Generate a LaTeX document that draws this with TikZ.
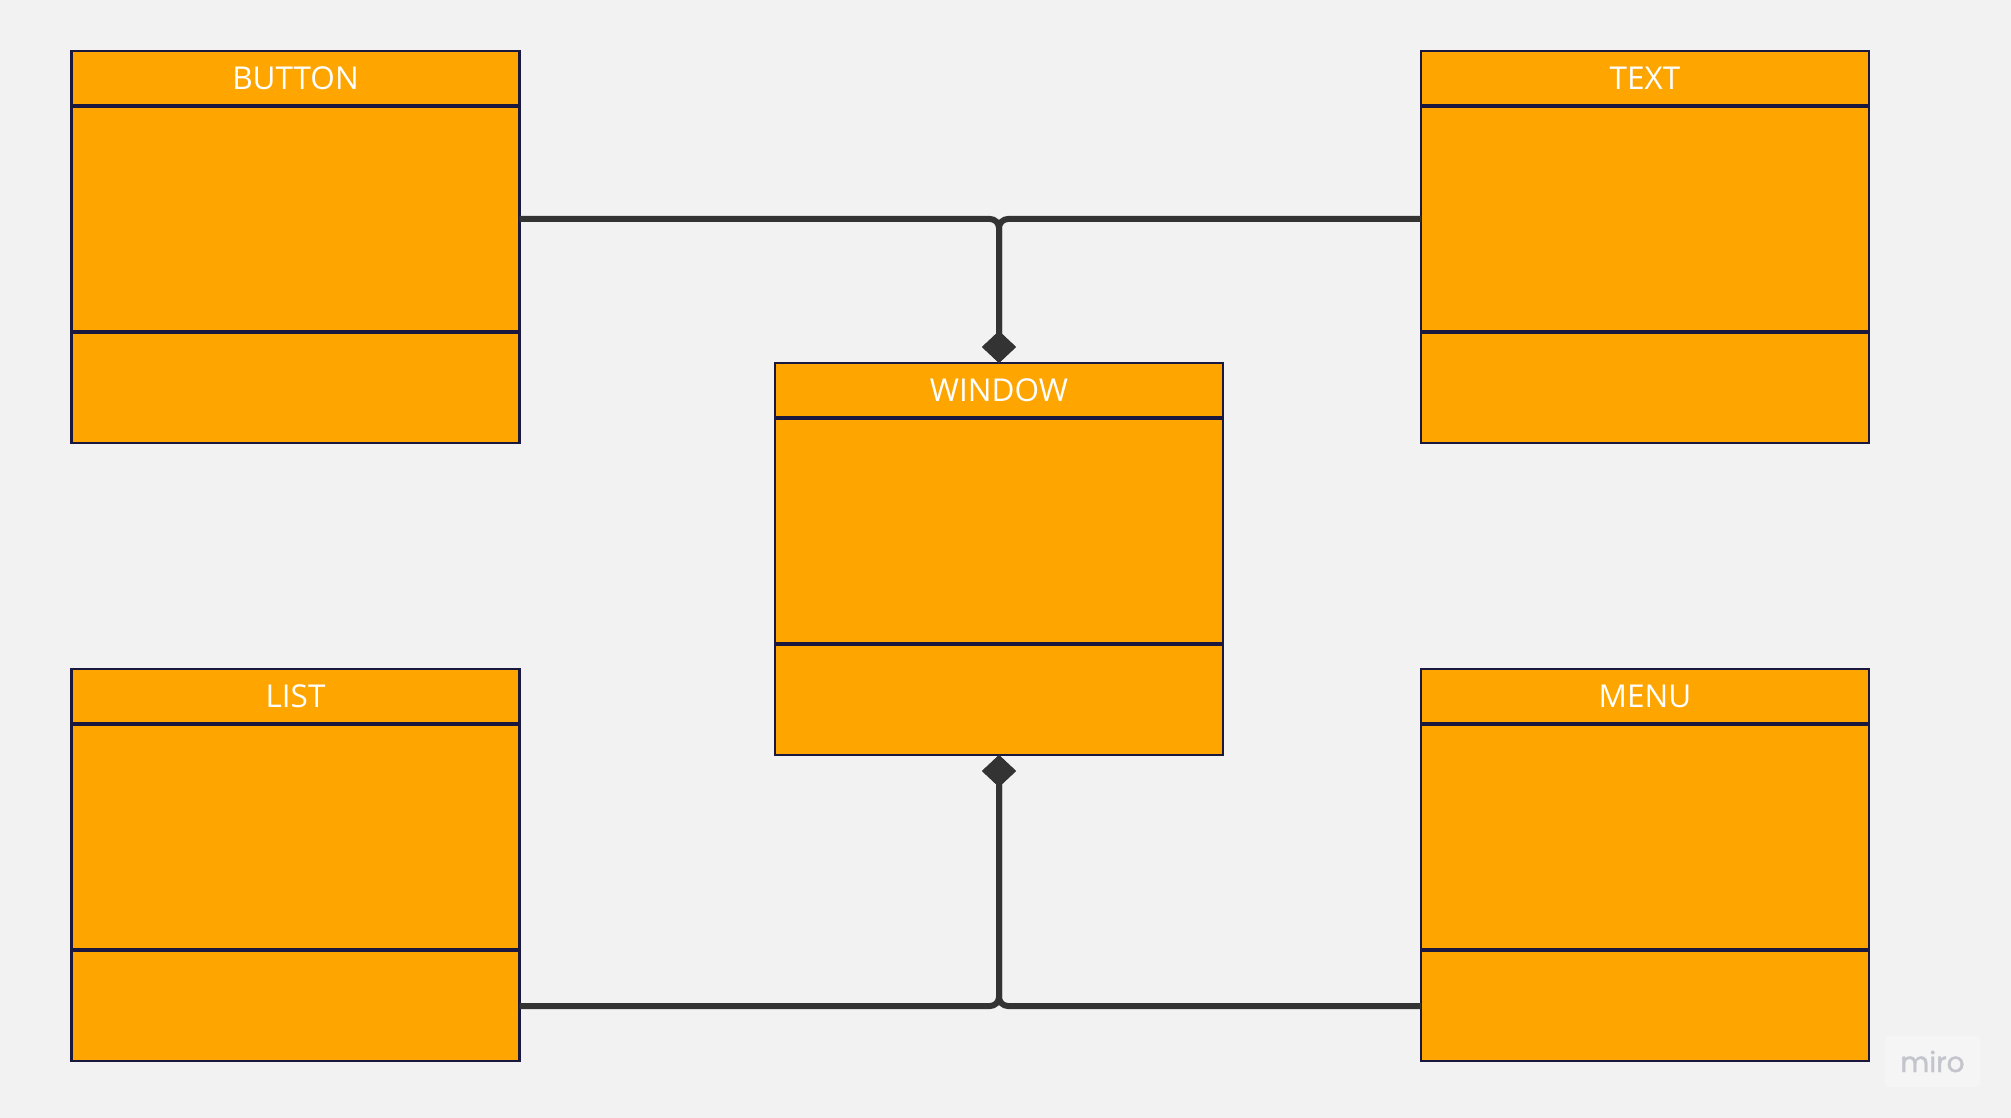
\documentclass[tikz,border=0pt]{standalone}
\usepackage{fontspec}
\setmainfont{Open Sans}
\newfontfamily\logofont[FakeBold=1.3]{Poppins}
\usetikzlibrary{arrows.meta}
\definecolor{canvas}{HTML}{F2F2F2}
\definecolor{umlorange}{HTML}{FFA500}
\definecolor{edge}{HTML}{1B1840}
\definecolor{wire}{HTML}{333333}
\definecolor{logobg}{HTML}{F5F5F6}
\definecolor{logotext}{HTML}{C4C4CC}

% one class box: header, attribute and operation compartments
\newcommand\umlclass[4]{%
  \node[part, minimum height=54pt] (#1-head) at (#2,#3) {\headfont\raisebox{-2.5pt}{#4}};
  \node[part, minimum height=224pt] (#1-body) at (#2,#3+56) {};
  \node[part, minimum height=110pt] (#1-foot) at (#2,#3+282) {};
}
\newcommand\headfont{\color{white}\fontsize{31.5}{36}\selectfont}

\begin{document}
\begin{tikzpicture}[x=1pt,y=-1pt,
  part/.style={draw=edge, fill=umlorange, line width=2.2pt, outer sep=0pt,
    inner sep=0pt, minimum width=448pt, anchor=north west},
  conn/.style={draw=wire, line width=6pt, rounded corners=9pt,
    -{Diamond[length=32pt,width=34pt]}}]
  \fill[canvas] (0,0) rectangle (2011,1118);
  \useasboundingbox (0,0) rectangle (2011,1118);

  \umlclass{button}{71.5}{51}{BUTTON}
  \umlclass{text}{1421}{51}{TEXT}
  \umlclass{window}{775}{363}{WINDOW}
  \umlclass{list}{71.5}{669}{LIST}
  \umlclass{menu}{1421}{669}{MENU}

  % compositions into the window
  \draw[conn] (button-body.east) -| (window-head.north);
  \draw[conn] (text-body.west) -| (window-head.north);
  \draw[conn] (list-foot.east) -| (window-foot.south);
  \draw[conn] (menu-foot.west) -| (window-foot.south);

  % watermark
  \node[fill=logobg, rounded corners=3pt, minimum width=95pt, minimum height=51pt,
    text=logotext, font=\logofont\fontsize{28}{32}\selectfont] (logo) at (1932.5,1061.5) {miro};
\end{tikzpicture}
\end{document}
